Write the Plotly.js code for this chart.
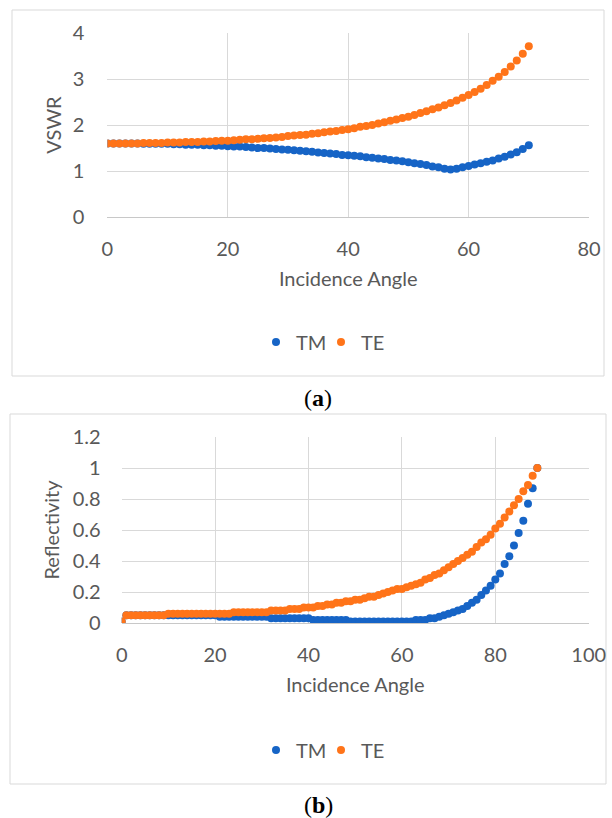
<!DOCTYPE html>
<html>
<head>
<meta charset="utf-8">
<script src="https://cdn.plot.ly/plotly-3.0.1.min.js"></script>
<style>
html,body{margin:0;padding:0;background:#fff;}
#chart{width:612px;height:818px;}
</style>
</head>
<body>
<div id="chart"></div>
<script>
// ---------- Panel (a): VSWR vs incidence angle ----------
var anglesA = [0,1,2,3,4,5,6,7,8,9,10,11,12,13,14,15,16,17,18,19,20,21,22,23,24,25,26,27,28,29,30,31,32,33,34,35,36,37,38,39,40,41,42,43,44,45,46,47,48,49,50,51,52,53,54,55,56,57,58,59,60,61,62,63,64,65,66,67,68,69,70];
var vswrTM = [1.60,1.60,1.60,1.60,1.60,1.60,1.59,1.59,1.59,1.59,
              1.59,1.58,1.58,1.57,1.57,1.57,1.56,1.56,1.55,1.55,
              1.54,1.53,1.53,1.52,1.51,1.50,1.50,1.49,1.48,1.47,
              1.46,1.45,1.44,1.43,1.42,1.40,1.39,1.38,1.37,1.35,
              1.34,1.33,1.32,1.30,1.29,1.27,1.26,1.24,1.23,1.21,
              1.19,1.17,1.15,1.13,1.10,1.08,1.05,1.03,1.05,1.08,
              1.11,1.14,1.17,1.20,1.23,1.27,1.31,1.36,1.41,1.48,
              1.56];
var vswrTE = [1.60,1.60,1.60,1.60,1.60,1.60,1.61,1.61,1.61,1.61,
              1.62,1.62,1.62,1.63,1.63,1.63,1.64,1.64,1.65,1.66,
              1.66,1.67,1.68,1.69,1.69,1.70,1.71,1.72,1.73,1.74,
              1.76,1.77,1.78,1.79,1.81,1.82,1.84,1.86,1.87,1.89,
              1.91,1.93,1.96,1.98,2.00,2.03,2.06,2.09,2.12,2.15,
              2.18,2.22,2.26,2.30,2.34,2.38,2.43,2.48,2.53,2.59,
              2.65,2.72,2.79,2.87,2.96,3.05,3.15,3.27,3.40,3.55,
              3.71];

// ---------- Panel (b): Reflectivity vs incidence angle ----------
var anglesB = [0,1,2,3,4,5,6,7,8,9,10,11,12,13,14,15,16,17,18,19,20,21,22,23,24,25,26,27,28,29,30,31,32,33,34,35,36,37,38,39,40,41,42,43,44,45,46,47,48,49,50,51,52,53,54,55,56,57,58,59,60,61,62,63,64,65,66,67,68,69,70,71,72,73,74,75,76,77,78,79,80,81,82,83,84,85,86,87,88,89];
var reflTM = [0.01,0.05,0.05,0.05,0.05,0.05,0.05,0.05,0.05,0.05,
              0.05,0.05,0.05,0.05,0.05,0.05,0.05,0.05,0.05,0.05,
              0.05,0.04,0.04,0.04,0.04,0.04,0.04,0.04,0.04,0.04,
              0.04,0.04,0.03,0.03,0.03,0.03,0.03,0.03,0.03,0.03,
              0.03,0.02,0.02,0.02,0.02,0.02,0.02,0.02,0.02,0.01,
              0.01,0.01,0.01,0.01,0.01,0.01,0.01,0.01,0.01,0.01,
              0.01,0.01,0.01,0.02,0.02,0.02,0.03,0.03,0.04,0.05,
              0.06,0.07,0.08,0.09,0.11,0.13,0.15,0.18,0.21,0.24,
              0.28,0.32,0.38,0.43,0.50,0.58,0.66,0.77,0.87,1.00];
var reflTE = [0.01,0.05,0.05,0.05,0.05,0.05,0.05,0.05,0.05,0.05,
              0.06,0.06,0.06,0.06,0.06,0.06,0.06,0.06,0.06,0.06,
              0.06,0.06,0.06,0.06,0.07,0.07,0.07,0.07,0.07,0.07,
              0.07,0.07,0.08,0.08,0.08,0.08,0.09,0.09,0.09,0.10,
              0.10,0.10,0.11,0.11,0.12,0.12,0.13,0.13,0.14,0.14,
              0.15,0.15,0.16,0.17,0.17,0.18,0.19,0.20,0.21,0.22,
              0.22,0.23,0.24,0.25,0.26,0.28,0.29,0.31,0.32,0.34,
              0.36,0.38,0.40,0.42,0.44,0.46,0.49,0.52,0.54,0.57,
              0.61,0.64,0.68,0.72,0.76,0.80,0.85,0.89,0.95,1.00];

var seriesNames = ['TM', 'TE'];
var seriesColors = ['#1664c6', '#ff7419'];
var xTitle = 'Incidence Angle';
var yTitleA = 'VSWR';
var yTitleB = 'Reflectivity';

var W = 612, H = 818;
function px(x){ return x / W; }
function py(y){ return 1 - y / H; }

var mk = function(c){ return {color: c, size: 8, line: {width: 0}}; };

var data = [
  {x: anglesA, y: vswrTM, type: 'scatter', mode: 'markers', name: seriesNames[0],
   marker: mk(seriesColors[0]), xaxis: 'x', yaxis: 'y', legend: 'legend', hoverinfo: 'skip'},
  {x: anglesA, y: vswrTE, type: 'scatter', mode: 'markers', name: seriesNames[1],
   marker: mk(seriesColors[1]), xaxis: 'x', yaxis: 'y', legend: 'legend', hoverinfo: 'skip'},
  {x: anglesB, y: reflTM, type: 'scatter', mode: 'markers', name: seriesNames[0],
   marker: mk(seriesColors[0]), xaxis: 'x2', yaxis: 'y2', legend: 'legend2', hoverinfo: 'skip'},
  {x: anglesB, y: reflTE, type: 'scatter', mode: 'markers', name: seriesNames[1],
   marker: mk(seriesColors[1]), xaxis: 'x2', yaxis: 'y2', legend: 'legend2', hoverinfo: 'skip'}
];

var gridC = '#d9d9d9';
var tickC = '#595959';
var FONT = 'Lato, "Open Sans", sans-serif';
var FS = 20;

function xax(domain, range, anchor){
  return {domain: domain, range: range, dtick: 20, tick0: 0, anchor: anchor,
    showgrid: true, gridcolor: gridC, gridwidth: 1, zeroline: false,
    showline: true, linecolor: '#c8c8c8', linewidth: 1, ticks: '',
    ticklabelstandoff: 14, tickfont: {size: FS, color: tickC, family: FONT},
    title: {text: xTitle, font: {size: FS, color: tickC, family: FONT}, standoff: 12},
    fixedrange: true};
}
function yax(domain, range, dtick, anchor, title, lstand, standoff){
  return {domain: domain, range: range, dtick: dtick, tick0: 0, anchor: anchor,
    showgrid: true, gridcolor: gridC, gridwidth: 1, zeroline: false,
    showline: false, ticks: '',
    ticklabelstandoff: lstand, tickfont: {size: FS, color: tickC, family: FONT},
    title: {text: title, font: {size: FS, color: tickC, family: FONT}, standoff: standoff},
    fixedrange: true};
}

function legendAt(yPix){
  return {orientation: 'h', x: px(321), xanchor: 'center', y: py(yPix), yanchor: 'middle',
    font: {size: FS, color: tickC, family: FONT}, bgcolor: 'rgba(0,0,0,0)',
    itemwidth: 30, tracegroupgap: 0, entrywidth: 20, entrywidthmode: 'pixels'};
}

var layout = {
  width: W, height: H,
  margin: {l: 0, r: 0, t: 0, b: 0},
  paper_bgcolor: '#ffffff', plot_bgcolor: '#ffffff',
  font: {family: FONT, color: tickC, size: FS},
  showlegend: true,
  xaxis: xax([px(107.4), px(589)], [0, 80], 'y'),
  yaxis: yax([py(217), py(33)], [0, 4], 1, 'x', yTitleA, 22, 5),
  xaxis2: xax([px(121.7), px(588.7)], [0, 100], 'y2'),
  yaxis2: yax([py(623), py(437)], [0, 1.2], 0.2, 'x2', yTitleB, 20, 7),
  legend: legendAt(342),
  legend2: legendAt(750),
  shapes: [
    {type: 'rect', xref: 'paper', yref: 'paper', x0: px(12), x1: px(604), y0: py(376), y1: py(10),
     line: {color: '#d9d9d9', width: 1}, fillcolor: 'rgba(0,0,0,0)', layer: 'below'},
    {type: 'rect', xref: 'paper', yref: 'paper', x0: px(10), x1: px(606), y0: py(784), y1: py(414),
     line: {color: '#d9d9d9', width: 1}, fillcolor: 'rgba(0,0,0,0)', layer: 'below'}
  ],
  annotations: [
    {xref: 'paper', yref: 'paper', x: px(318), y: py(398), xanchor: 'center', yanchor: 'middle',
     text: '(<b>a</b>)', showarrow: false, font: {family: '"Liberation Serif", "Times New Roman", serif', size: 24, color: '#000'}},
    {xref: 'paper', yref: 'paper', x: px(318), y: py(805), xanchor: 'center', yanchor: 'middle',
     text: '(<b>b</b>)', showarrow: false, font: {family: '"Liberation Serif", "Times New Roman", serif', size: 24, color: '#000'}}
  ]
};

Plotly.newPlot('chart', data, layout, {staticPlot: true, displayModeBar: false});
</script>
</body>
</html>
